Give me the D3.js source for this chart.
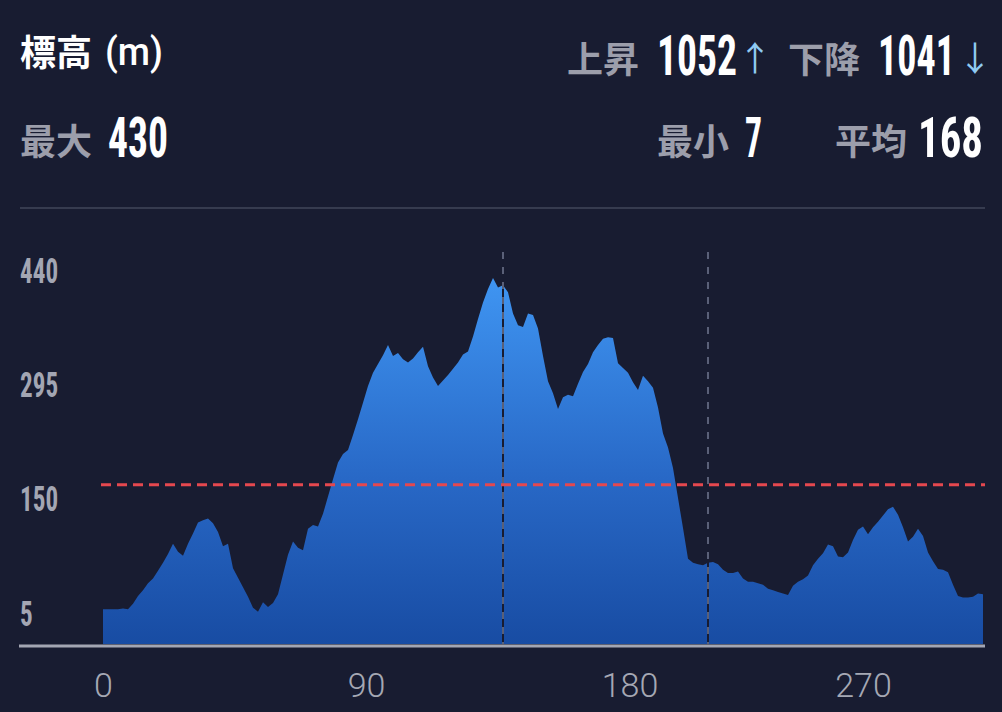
<!DOCTYPE html>
<html><head><meta charset="utf-8">
<script src="https://cdn.jsdelivr.net/npm/d3@7"></script>
<style>
html,body{margin:0;padding:0;background:#181c31;}
svg{display:block;}
</style></head><body>
<svg id="c" width="1002" height="712"></svg>
<script>
// ---- data ----
const elevation = [
 10,10,10,10,11,10,17,27,34,43,
 49,59,69,80,93,83,78,93,106,120,
 123,125,119,108,90,93,62,50,38,26,
 12,7,19,13,18,29,54,79,96,88,
 85,112,117,115,131,153,175,196,207,212,
 231,251,272,293,310,321,332,345,331,335,
 327,323,328,336,343,318,304,293,300,307,
 315,323,333,337,356,378,399,416,430,418,
 421,412,385,370,368,385,383,366,331,299,
 284,264,279,282,280,296,311,321,336,345,
 353,355,354,322,316,310,298,288,306,299,
 291,266,233,215,189,151,113,74,69,67,
 66,69,70,67,60,56,56,58,49,45,
 45,43,41,36,34,32,30,28,40,45,
 48,53,66,74,81,92,90,77,76,82,
 98,111,115,105,114,121,129,137,140,130,
 114,96,102,112,103,82,71,61,60,57,
 41,27,25,25,26,30,29
];
const xTickLabels = ["0","90","180","270"];
const xTickIndex = [0, 52.6, 105.3, 152];   // sample index where each label falls
const markerIndex = [80, 121];               // lap markers (sample index)
const yTickValues = [5, 150, 295, 440];
const yDomain = [-34, 463];
const averageValue = 168;
const title = "標高";
const unit = "(m)";
const statLabels = ["上昇", "下降", "最大", "最小", "平均"];
const statValues = ["1052", "1041", "430", "7", "168"];
const statArrows = ["↑", "↓"];

// ---- drawing ----
const svg = d3.select("#c");
const BG = "#181c31";
svg.append("rect").attr("width",1002).attr("height",712).attr("fill",BG);

const CJK = "'Noto Sans CJK JP','Noto Sans CJK SC',sans-serif";
const COND = "'Liberation Sans Narrow','Roboto Condensed','DejaVu Sans Condensed','Liberation Sans',sans-serif";
const LABEL_GREY = "#9c9eab";

function cjk(txt, x, y, fill){
  svg.append("text").attr("x",x).attr("y",y).text(txt)
    .attr("font-family",CJK).attr("font-weight",700).attr("font-size",36).attr("fill",fill);
}
// text squeezed horizontally (via transform) to a target width
function squeezed(parent, txt, x, y, width, attrs){
  const t = parent.append("text").attr("x",0).attr("y",0).attr("text-anchor","start").text(txt);
  Object.entries(attrs).forEach(([k,v])=>t.attr(k,v));
  const w = t.node().getComputedTextLength();
  t.attr("transform",`translate(${x},${y}) scale(${width/w},1)`);
  return t;
}
function num(txt, x, y, width){
  squeezed(svg, txt, x, y, width, {"font-family":COND,"font-weight":700,"font-size":55,"fill":"#ffffff"});
}
function arrow(txt, x, y){
  svg.append("text").attr("x",x).attr("y",y).text(txt)
    .attr("font-family",CJK).attr("font-weight",400)
    .attr("font-size",34).attr("fill","#8fcaf2");
}

// header
cjk(title, 20, 65.5, "#ffffff");
squeezed(svg, unit, 105, 65, 58, {"font-family":"Roboto,'Liberation Sans',sans-serif","font-weight":500,"font-size":38,"fill":"#ffffff"});
cjk(statLabels[0], 567, 72.5, LABEL_GREY);
num(statValues[0], 657, 75, 80);
arrow(statArrows[0], 738, 71);
cjk(statLabels[1], 788, 72.5, LABEL_GREY);
num(statValues[1], 878, 75, 77);
arrow(statArrows[1], 958, 71);

cjk(statLabels[2], 20, 154.5, LABEL_GREY);
num(statValues[2], 108, 157, 60);
cjk(statLabels[3], 657, 154.5, LABEL_GREY);
num(statValues[3], 745, 157, 17);
cjk(statLabels[4], 835, 154.5, LABEL_GREY);
num(statValues[4], 918, 157, 65);

// separator
svg.append("line").attr("x1",20).attr("x2",985).attr("y1",208).attr("y2",208)
  .attr("stroke","#363b4f").attr("stroke-width",2);

// scales
const x = d3.scaleLinear().domain([0, elevation.length-1]).range([103, 983]);
const y = d3.scaleLinear().domain(yDomain).range([644, 252]);

// gradient
const defs = svg.append("defs");
const grad = defs.append("linearGradient").attr("id","ag")
  .attr("gradientUnits","userSpaceOnUse").attr("x1",0).attr("x2",0)
  .attr("y1",y(430)).attr("y2",y(yDomain[0]));
grad.append("stop").attr("offset","0%").attr("stop-color","#3f95f2");
grad.append("stop").attr("offset","55%").attr("stop-color","#2868c6");
grad.append("stop").attr("offset","100%").attr("stop-color","#184ca3");

const area = d3.area()
  .x((d,i)=>x(i)).y0(y(yDomain[0])).y1(d=>y(d))
  .curve(d3.curveLinear);
svg.append("path").datum(elevation).attr("d",area).attr("fill","url(#ag)");

// marker lines
markerIndex.forEach(m=>{
  svg.append("line").attr("x1",x(m)).attr("x2",x(m)).attr("y1",y(d3.max(elevation))).attr("y2",y(yDomain[0]))
    .attr("stroke",BG).attr("stroke-width",2);
  svg.append("line").attr("x1",x(m)).attr("x2",x(m)).attr("y1",y(yDomain[1])).attr("y2",y(yDomain[0]))
    .attr("stroke","#5a6078").attr("stroke-width",2).attr("stroke-dasharray","7,8");
});

// average line
svg.append("line").attr("x1",101).attr("x2",985).attr("y1",y(averageValue)).attr("y2",y(averageValue))
  .attr("stroke","#e5484f").attr("stroke-width",3).attr("stroke-dasharray","10,6");

// y axis labels
const yAxis = d3.axisLeft(y).tickValues(yTickValues).tickSize(0).tickPadding(0);
const gy = svg.append("g").call(yAxis);
gy.select(".domain").remove();
gy.attr("text-anchor","start");
gy.selectAll(".tick").each(function(d){
  const g = d3.select(this);
  g.select("text").remove();
  g.attr("transform",null);
  squeezed(g, String(d), 20, y(d)+12.5, String(d).length*12.7,
    {"font-family":COND,"font-weight":700,"font-size":35,"fill":"#a3a6b3"});
});

// x axis
svg.append("line").attr("x1",19).attr("x2",985).attr("y1",646).attr("y2",646)
  .attr("stroke","#a3a6b3").attr("stroke-width",3);
const xAxis = d3.axisBottom(x).tickValues(xTickIndex).tickFormat((d,i)=>xTickLabels[i]).tickSize(0).tickPadding(0);
const gx = svg.append("g").attr("transform","translate(0,697)").call(xAxis);
gx.select(".domain").remove();
gx.selectAll("text").attr("dy",0)
  .attr("font-family","Roboto,'Liberation Sans',sans-serif").attr("font-weight",300)
  .attr("font-size",34).attr("fill","#a5a8b4");
</script>
</body></html>
